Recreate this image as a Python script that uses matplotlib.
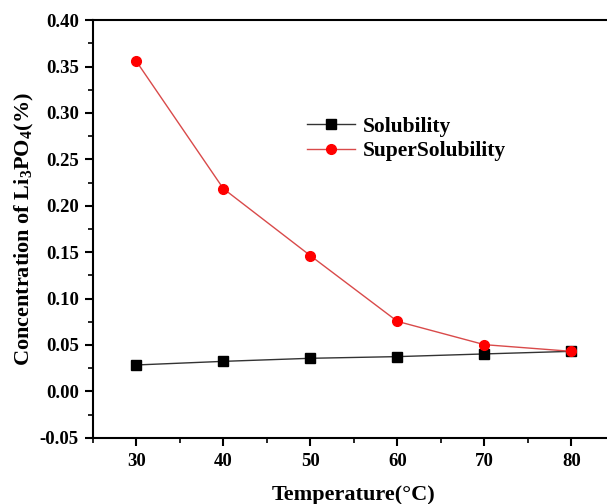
import matplotlib.pyplot as plt
from matplotlib.ticker import MultipleLocator

# data
TEMPERATURE = [30, 40, 50, 60, 70, 80]
SOLUBILITY = [0.0284, 0.0323, 0.0356, 0.0374, 0.0403, 0.0431]
SUPER_SOLUBILITY = [0.3556, 0.2184, 0.1462, 0.0754, 0.0503, 0.0431]

plt.rcParams['font.family'] = ['Liberation Serif', 'DejaVu Serif']
plt.rcParams['font.weight'] = 'bold'
plt.rcParams['mathtext.fontset'] = 'custom'
plt.rcParams['mathtext.rm'] = 'Liberation Serif:bold'
plt.rcParams['mathtext.it'] = 'Liberation Serif:bold'
plt.rcParams['mathtext.bf'] = 'Liberation Serif:bold'

fig = plt.figure(figsize=(6.07, 5.04), dpi=100)
# the right edge of the frame sits just outside the picture, as in the reference
ax = fig.add_axes([0.153, 0.1315, 0.86, 0.8285])

ax.plot(TEMPERATURE, SOLUBILITY, color="#333333", lw=1.0, marker="s",
        markersize=6.5, markerfacecolor="black", markeredgecolor="black",
        label="Solubility")
ax.plot(TEMPERATURE, SUPER_SOLUBILITY, color="#d94a4a", lw=1.0, marker="o",
        markersize=7, markerfacecolor="red", markeredgecolor="red",
        label="SuperSolubility")

ax.set_xlim(25, 85)
ax.set_ylim(-0.05, 0.40)
ax.xaxis.set_major_locator(MultipleLocator(10))
ax.xaxis.set_minor_locator(MultipleLocator(5))
ax.yaxis.set_major_locator(MultipleLocator(0.05))
ax.yaxis.set_minor_locator(MultipleLocator(0.025))
ax.yaxis.set_major_formatter(plt.FuncFormatter(lambda v, p: "%.2f" % v))

for side in ax.spines:
    ax.spines[side].set_linewidth(1.5)
ax.tick_params(which="major", direction="out", length=6, width=1.5,
               labelsize=13.5)
ax.tick_params(axis="x", which="major", pad=5)
ax.tick_params(axis="y", which="major", pad=4)
ax.tick_params(which="minor", direction="out", length=3.5, width=1.2)
for lab in ax.get_xticklabels() + ax.get_yticklabels():
    lab.set_fontweight("bold")

ax.set_xlabel("Temperature(\u00b0C)", fontsize=16, fontweight="bold", labelpad=11)
ax.set_ylabel("Concentration of Li$_3$PO$_4$(%)", fontsize=16,
              fontweight="bold", labelpad=3)

ax.legend(loc="center left", bbox_to_anchor=(0.374, 0.715), frameon=False,
          prop={"size": 15.5, "weight": "bold"}, handlelength=2.2,
          handletextpad=0.35, labelspacing=0.2)

fig.savefig("out.png", dpi=100)
